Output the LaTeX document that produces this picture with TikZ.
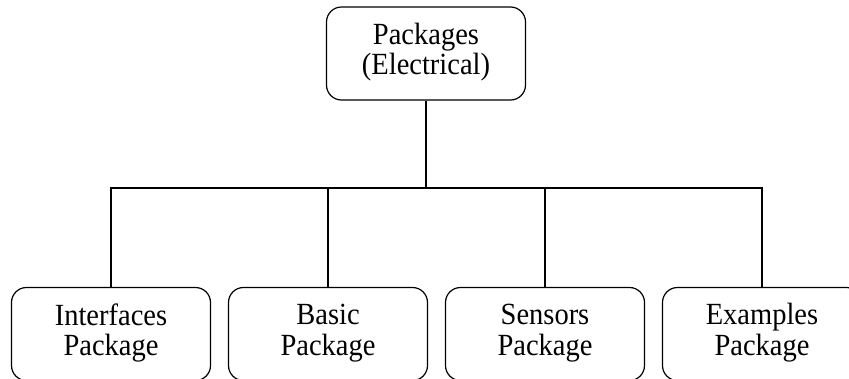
\documentclass[tikz,border=0pt]{standalone}
\usepackage{graphicx}
\usepackage{fontspec}
\setmainfont{Liberation Serif}
% two centred lines, set slightly tall
\newcommand\pkglabel[2]{\scalebox{1}[1.08]{\begin{tabular}{@{}c@{}}#1\\#2\end{tabular}}}
\begin{document}
\begin{tikzpicture}[x=1pt,y=-1pt,
  pkgbox/.style={draw, line width=1.2pt, rounded corners=15pt,
    minimum width=199pt, minimum height=93pt,
    font=\fontsize{28.5}{28}\selectfont, inner sep=0pt},
  link/.style={line width=1.2pt}]
\useasboundingbox[fill=white] (0,0) rectangle (849,378);

\node[pkgbox] (top) at (426,53.5) {\raisebox{-2pt}{\pkglabel{Packages}{(Electrical)}}};

\node[pkgbox] (b1) at (111,334) {\pkglabel{Interfaces}{Package}};
\node[pkgbox] (b2) at (328,334) {\pkglabel{Basic}{Package}};
\node[pkgbox] (b3) at (545,334) {\pkglabel{Sensors}{Package}};
\node[pkgbox] (b4) at (762,334) {\pkglabel{Examples}{Package}};

\coordinate (bus) at (426,188);

\draw[link] (top.south) -- (bus);
\draw[link] (b1.north) |- (b4.north |- bus) -- (b4.north);
\draw[link] (b2.north) -- (b2.north |- bus);
\draw[link] (b3.north) -- (b3.north |- bus);
\end{tikzpicture}
\end{document}
